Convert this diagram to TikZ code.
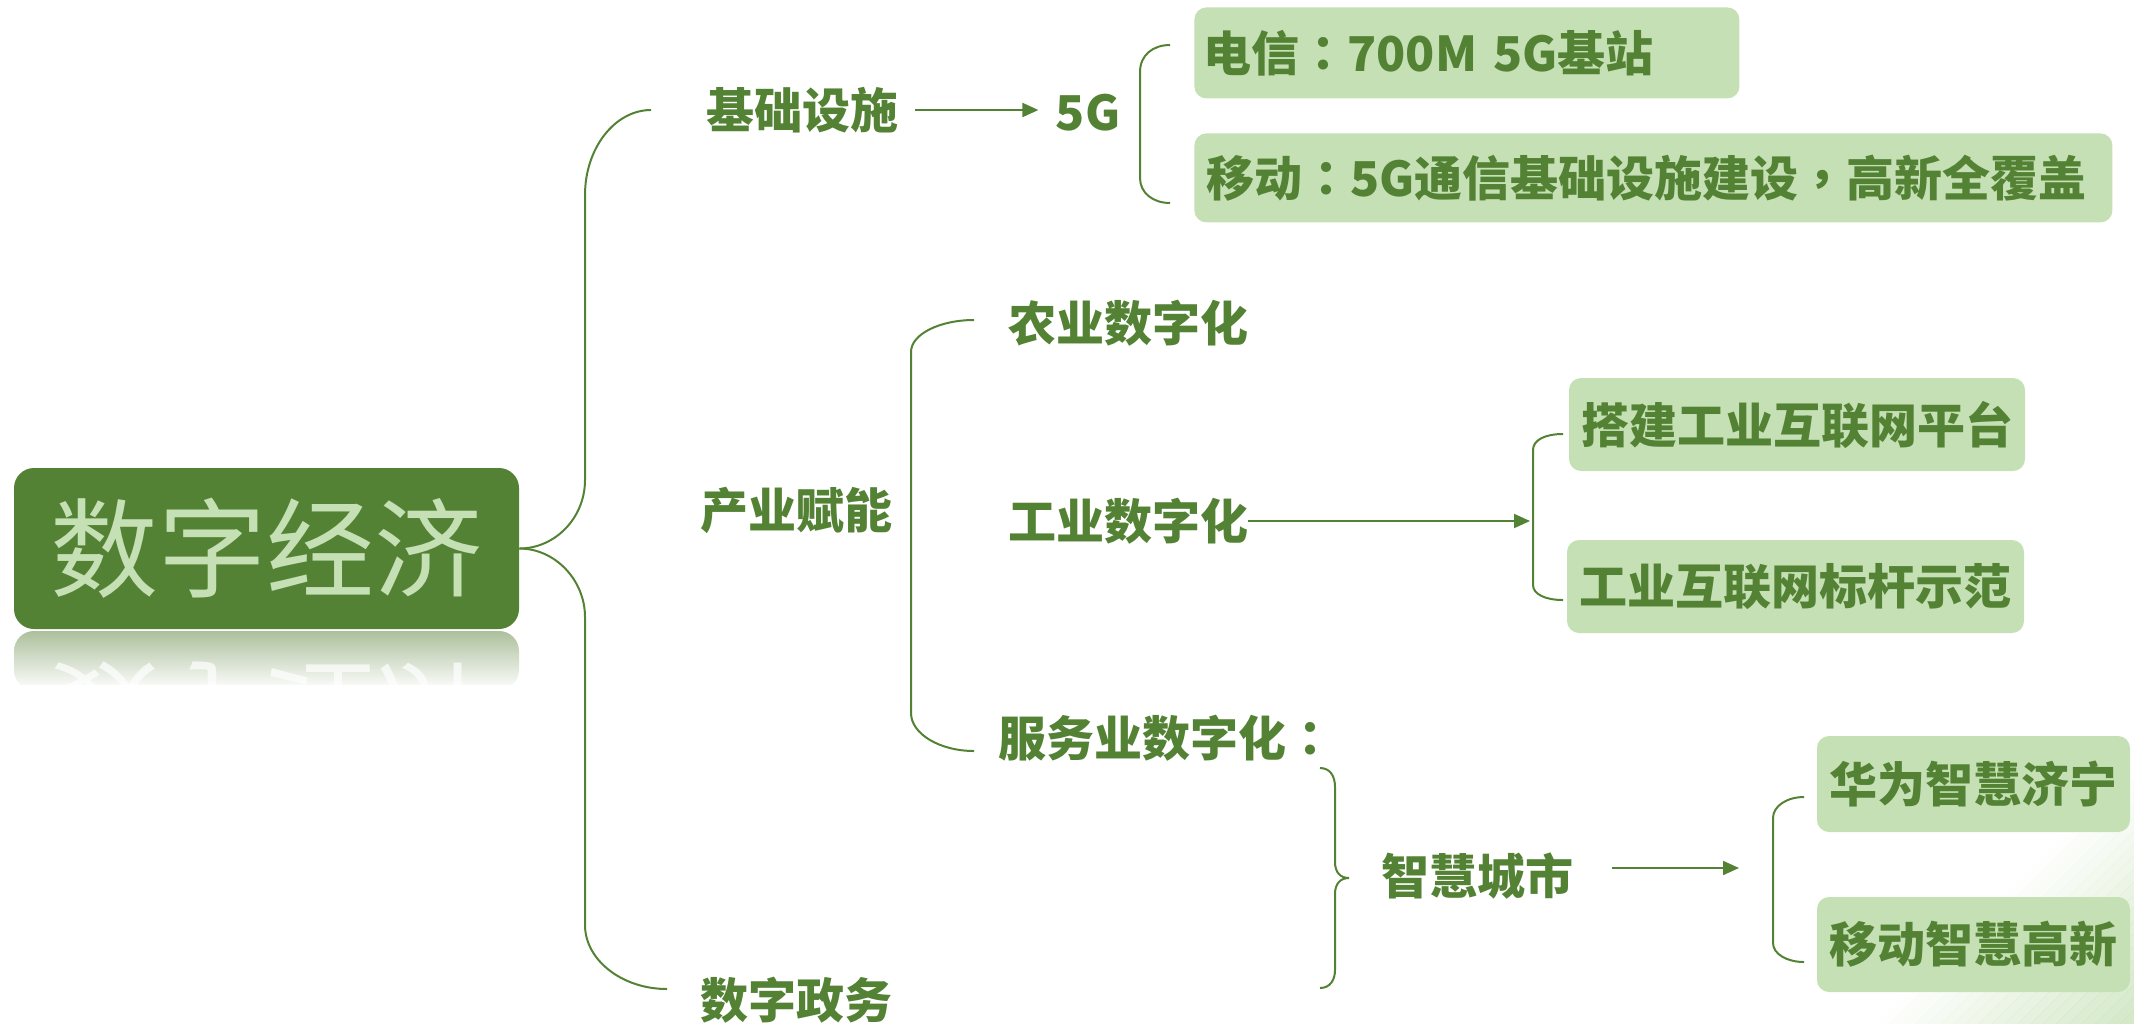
\documentclass[tikz,border=0pt]{standalone}
\usepackage{fontspec}
\newfontfamily\cjk{Noto Sans CJK SC}
\newfontfamily\cjktc{Noto Sans CJK TC}
\newcommand{\cpunct}[1]{{\cjktc\bfseries #1}}
\usetikzlibrary{arrows.meta,calc}
\definecolor{dg}{HTML}{548235}
\definecolor{lg}{HTML}{C5E0B4}
\definecolor{rf}{RGB}{172,192,156}
\begin{document}
\begin{tikzpicture}[x=0.5pt,y=-0.5pt,
  lab/.style={font=\cjk\bfseries\fontsize{24pt}{28pt}\selectfont, text=dg, inner sep=0pt},
  box/.style={lab, fill=lg, rounded corners=6pt},
  ln/.style={draw=dg, line width=1pt},
  arr/.style={ln, -{Triangle[length=8pt,width=7pt]}}]
\useasboundingbox (0,0) rectangle (2134,1023);
% faint background decoration (diagonal bands, bottom right)
\begin{scope}
  \clip (0,0) rectangle (2134,1023);
  \foreach \i in {0,...,19}{
    \pgfmathsetmacro{\a}{2900+\i*12.85}
    \pgfmathsetmacro{\b}{2900+(\i+1)*12.85+0.5}
    \pgfmathsetmacro{\o}{(\i+0.5)/20*0.75}
    \fill[lg, opacity=\o] (\a-1100,1100) -- (\b-1100,1100) -- (2200,\b-2200) -- (2200,\a-2200) -- cycle;
  }
\end{scope}
% main node
\node[fill=dg, rounded corners=10pt, minimum width=252.5pt, minimum height=80.5pt, inner sep=0pt,
      font=\cjk\fontsize{54pt}{60pt}\selectfont, text=lg] (main) at (266.5,548.5) {数字经济};
% reflection
\begin{scope}
  \clip (14,631) rectangle (519,684);
  \shade[top color=rf, bottom color=white, rounded corners=10pt] (14,690) -- (14,631) -- (519,631) -- (519,690) -- cycle;
  \begin{scope}[shift={(266.5,712)}, yscale=-1]
    \node[transform shape, inner sep=0pt, font=\cjk\fontsize{54pt}{60pt}\selectfont, text=white, opacity=0.7] (mref) at (0,0) {数字经济};
  \end{scope}
\end{scope}
% labels
\node[lab] (jc) at (802,110) {基础设施};
\node[lab] (fg) at (1088,113) {5G};
\node[box, anchor=north west, minimum height=45.5pt, text width=263.5pt, inner xsep=4.5pt, align=left] (dx) at (1194,7) {电信\cpunct{：}700M 5G基站};
\node[box, anchor=north west, minimum height=44.5pt, text width=447pt, inner xsep=6pt, align=left] (yd) at (1194,133) {移动\cpunct{：}5G通信基础设施建设\cpunct{，}高新全覆盖};
\node[lab] (cy) at (796,510) {产业赋能};
\node[lab] (ny) at (1128,323) {农业数字化};
\node[lab] (gy) at (1128,521) {工业数字化};
\node[lab, anchor=west] (fw) at (998,738) {服务业数字化\cpunct{：}};
\node[lab] (zw) at (796,1000) {数字政务};
\node[box, minimum width=228pt, minimum height=46.5pt] (g1) at (1797,424.5) {搭建工业互联网平台};
\node[box, minimum width=228.5pt, minimum height=46.5pt] (g2) at (1795.5,586.5) {工业互联网标杆示范};
\node[lab] (zh) at (1477,876) {智慧城市};
\node[box, minimum width=156.5pt, minimum height=48pt] (hw) at (1973.5,784) {华为智慧济宁};
\node[box, minimum width=156.5pt, minimum height=47.5pt] (ym) at (1973.5,944.5) {移动智慧高新};
% bracket end coordinates
\coordinate (bjc) at (651,110);
\coordinate (bzw) at (667,989);
\coordinate (b5t) at (1170,45);
\coordinate (b5b) at (1170,203);
\coordinate (bny) at (974,320);
\coordinate (bfw) at (974,751);
\coordinate (gbr) at (1533,517);
\coordinate (bg1) at (1563,434);
\coordinate (bg2) at (1563,600);
\coordinate (zbt) at (1320,768);
\coordinate (zbb) at (1320,988);
\coordinate (hbr) at (1773,868);
\coordinate (bhw) at (1804,797);
\coordinate (bym) at (1804,962);
% main brace
\draw[ln] (main.east) .. controls (555,548.5) and (585,518) .. (585,480) -- (585,195)
  .. controls (585,148) and (615,110) .. (bjc);
\draw[ln] (main.east) .. controls (555,548.5) and (585,580) .. (585,617) -- (585,925)
  .. controls (585,960) and (622,989) .. (bzw);
% 基础设施 -> 5G
\draw[arr, shorten <=8.5pt, shorten >=8.5pt] (jc.east) -- (jc.east -| fg.west);
% 5G bracket
\draw[ln] (b5t) .. controls (1153,45) and (1140,55) .. (1140,72) -- (1140,178)
  .. controls (1140,193) and (1153,203) .. (b5b);
% 产业赋能 bracket
\draw[ln] (bny) .. controls (940,320) and (911,334) .. (911,352) -- (911,713)
  .. controls (911,734) and (940,751) .. (bfw);
% 工业数字化 arrow and bracket
\draw[arr, shorten >=1.5pt] (gy.east) -- (gy.east -| gbr);
\draw[ln] (bg1) .. controls (1545,434) and (1533,440) .. (1533,450) -- (1533,585)
  .. controls (1533,594) and (1545,600) .. (bg2);
% 智慧城市 brace
\draw[ln] (zbt) .. controls (1330,768) and (1335,776) .. (1335,787) -- (1335,862)
  .. controls (1335,872) and (1340,878) .. (1349,878)
  .. controls (1340,878) and (1335,884) .. (1335,894) -- (1335,970)
  .. controls (1335,980) and (1330,988) .. (zbb);
% 智慧城市 arrow and bracket
\draw[arr, shorten <=19.5pt, shorten >=17pt] (zh.east |- hbr) -- (hbr);
\draw[ln] (bhw) .. controls (1787,797) and (1773,806) .. (1773,818) -- (1773,943)
  .. controls (1773,954) and (1787,962) .. (bym);
\end{tikzpicture}
\end{document}
